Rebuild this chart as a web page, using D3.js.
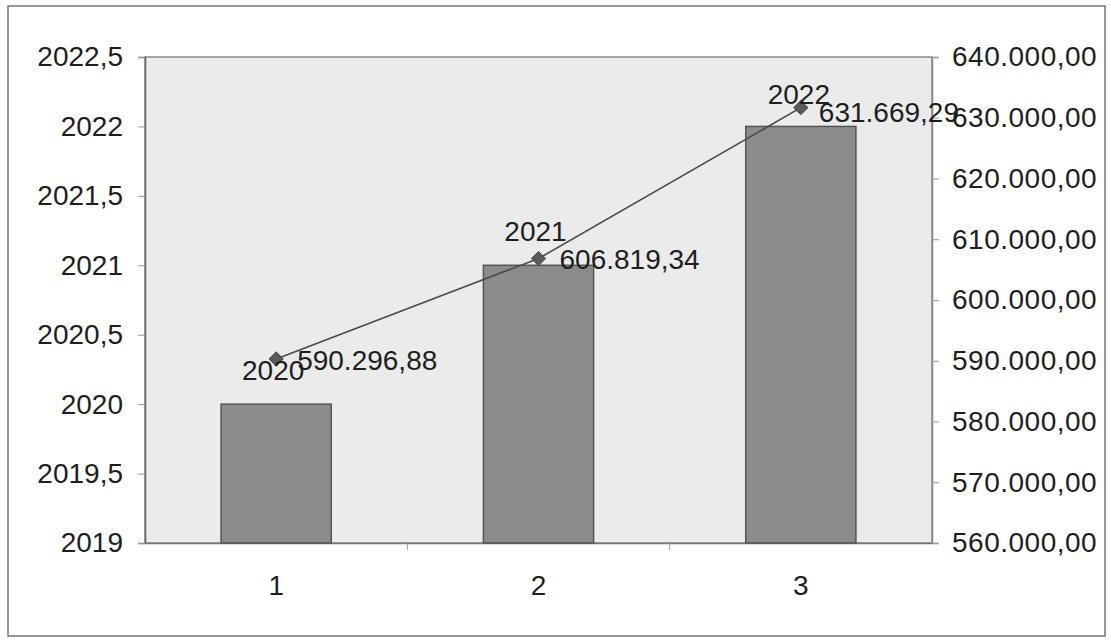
<!DOCTYPE html>
<html>
<head>
<meta charset="utf-8">
<script src="https://cdn.jsdelivr.net/npm/d3@7"></script>
<style>
  body { margin: 0; background: #fff; }
  text { font-family: "Liberation Sans", Arial, sans-serif; fill: #1e1e1e; }
</style>
</head>
<body>
<svg id="chart" width="1111" height="640"></svg>
<script>
// data
const categories = ["1", "2", "3"];
const years = [2020, 2021, 2022];                       // bars, left axis
const amounts = [590296.88, 606819.34, 631669.29];      // line, right axis
const leftTicks = [2019, 2019.5, 2020, 2020.5, 2021, 2021.5, 2022, 2022.5];
const rightTicks = [560000, 570000, 580000, 590000, 600000, 610000, 620000, 630000, 640000];

// plot area
const margin = {top: 57, right: 179, bottom: 97, left: 145},
  width = 1111 - margin.left - margin.right,
  height = 640 - margin.top - margin.bottom;

const svg = d3.select("#chart");

// outer frame
svg.append("rect")
  .attr("x", 8).attr("y", 6)
  .attr("width", 1097).attr("height", 630)
  .attr("fill", "#fff")
  .attr("stroke", "#777")
  .attr("stroke-width", 1.5);

const g = svg.append("g")
  .attr("transform", `translate(${margin.left},${margin.top})`);

const x = d3.scaleBand()
  .domain(categories)
  .range([0, width])
  .paddingInner(0.58)
  .paddingOuter(0.29);

const yL = d3.scaleLinear().domain([2019, 2022.5]).range([height, 0]);
const yR = d3.scaleLinear().domain([560000, 640000]).range([height, 0]);

// plot background
g.append("rect")
  .attr("width", width).attr("height", height)
  .attr("fill", "#ebebeb")
  .attr("stroke", "#8a8a8a")
  .attr("stroke-width", 1.5);

// decimal comma, dot thousands
const locale = d3.formatLocale({decimal: ",", thousands: ".", grouping: [3], currency: ["", ""]});
const fmtLeft = d => String(d).replace(".", ",");
const fmtRight = locale.format(",.2f");

// left axis
const axL = g.append("g")
  .call(d3.axisLeft(yL).tickValues(leftTicks).tickFormat(fmtLeft).tickSize(7).tickPadding(15));
axL.select(".domain").attr("stroke", "#666").attr("stroke-width", 1.5);
axL.selectAll(".tick line").attr("stroke", "#999");
axL.selectAll("text").attr("font-size", "28px");

// right axis
const axR = g.append("g")
  .attr("transform", `translate(${width},0)`)
  .call(d3.axisRight(yR).tickValues(rightTicks).tickFormat(fmtRight).tickSize(7).tickPadding(13));
axR.select(".domain").attr("stroke", "#888").attr("stroke-width", 1.5);
axR.selectAll(".tick line").attr("stroke", "#999");
axR.selectAll("text").attr("font-size", "28px").attr("letter-spacing", "0.5px");

// bottom axis: labels centred, ticks between categories
const axB = g.append("g")
  .attr("transform", `translate(0,${height})`)
  .call(d3.axisBottom(x).tickSize(0).tickPadding(32));
axB.select(".domain").attr("stroke", "#777").attr("stroke-width", 1.5);
axB.selectAll("text").attr("font-size", "28px");
g.append("g")
  .selectAll("line")
  .data(categories.slice(1))
  .join("line")
  .attr("x1", d => x(d) - x.step() * x.paddingInner() / 2)
  .attr("x2", d => x(d) - x.step() * x.paddingInner() / 2)
  .attr("y1", height)
  .attr("y2", height + 7)
  .attr("stroke", "#999");

// bars
g.selectAll(".bar")
  .data(years)
  .join("rect")
  .attr("class", "bar")
  .attr("x", (d, i) => x(categories[i]))
  .attr("y", d => yL(d))
  .attr("width", x.bandwidth())
  .attr("height", d => height - yL(d))
  .attr("fill", "#8b8b8b")
  .attr("stroke", "#555")
  .attr("stroke-width", 1.5);

// line
const cx = i => x(categories[i]) + x.bandwidth() / 2;
g.append("path")
  .datum(amounts)
  .attr("fill", "none")
  .attr("stroke", "#4a4a4a")
  .attr("stroke-width", 1.6)
  .attr("d", d3.line().x((d, i) => cx(i)).y(d => yR(d)));

g.selectAll(".marker")
  .data(amounts)
  .join("path")
  .attr("class", "marker")
  .attr("transform", (d, i) => `translate(${cx(i)},${yR(d)})`)
  .attr("d", d3.symbol(d3.symbolDiamond2, 130))
  .attr("fill", "#5a5a5a")
  .attr("stroke", "#444");

// data labels (label nudges only, relative to each point)
const yearNudge = [[-3, 21], [-3, -18], [-2, -4]];
const valueNudge = [[21, 11], [21, 10], [18, 14]];

g.selectAll(".ylab")
  .data(years)
  .join("text")
  .attr("class", "ylab")
  .attr("x", (d, i) => cx(i) + yearNudge[i][0])
  .attr("y", (d, i) => yR(amounts[i]) + yearNudge[i][1])
  .attr("text-anchor", "middle")
  .attr("font-size", "28px")
  .text(d => d);

g.selectAll(".vlab")
  .data(amounts)
  .join("text")
  .attr("class", "vlab")
  .attr("x", (d, i) => cx(i) + valueNudge[i][0])
  .attr("y", (d, i) => yR(d) + valueNudge[i][1])
  .attr("font-size", "28px")
  .text(d => fmtRight(d));
</script>
</body>
</html>
